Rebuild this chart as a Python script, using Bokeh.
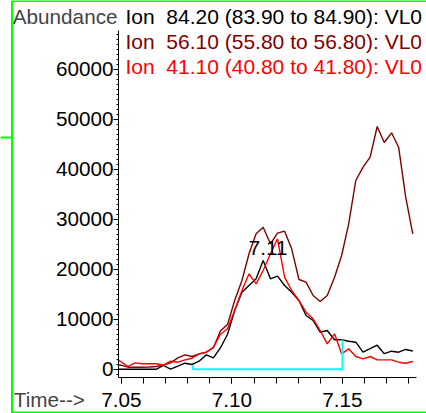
from bokeh.plotting import figure
from bokeh.models import (Range1d, FixedTicker, SingleIntervalTicker, PrintfTickFormatter,
                          Label, BoxAnnotation)
from bokeh.embed import file_html
from bokeh.resources import INLINE
from bokeh.core.properties import value

# ---- data ----
times = [7.0486, 7.0497, 7.0529, 7.0561, 7.0593, 7.0626, 7.0658, 7.0690, 7.0722, 7.0755,
         7.0787, 7.0819, 7.0851, 7.0884, 7.0916, 7.0948, 7.0980, 7.1012, 7.1045, 7.1077,
         7.1109, 7.1141, 7.1174, 7.1206, 7.1238, 7.1270, 7.1303, 7.1335, 7.1367, 7.1399,
         7.1431, 7.1464, 7.1496, 7.1528, 7.1560, 7.1593, 7.1625, 7.1657, 7.1689, 7.1722,
         7.1754, 7.1786, 7.1818]

ion_84 = [0, 0, 0, 0, 0, 0, 0, 740, 0, 600,
          1200, 940, 1600, 2870, 2270, 4300, 7000, 11740, 15400, 16740,
          18080, 21740, 18080, 18600, 16740, 15400, 13740, 10740, 9740, 7400,
          7740, 5880, 5880, 5600, 5400, 3400, 4100, 4800, 3100, 3600,
          3400, 3950, 3650]

ion_56 = [900, 800, 400, 400, 400, 450, 550, 800, 1270, 2270,
          2870, 2540, 3070, 3400, 4300, 7700, 8940, 13740, 17740, 23080,
          27080, 28400, 25080, 27200, 27600, 24080, 17940, 17400, 14740, 13540,
          14740, 18400, 22740, 29080, 37740, 40400, 42400, 48540, 45340, 47280,
          44400, 34400, 27080]

ion_41 = [1870, 1500, 540, 1270, 1100, 1100, 1100, 800, 1600, 1400,
          1870, 2200, 3070, 3400, 4400, 7000, 8080, 11740, 15740, 19080,
          17080, 19740, 23080, 26080, 18400, 15740, 13740, 11400, 10080, 7740,
          5080, 7080, 3070, 4070, 2540, 2070, 2540, 1870, 1870, 1870,
          1400, 1200, 1540]

baseline_t = [7.0823, 7.0823, 7.15, 7.15]
baseline_v = [800, 0, 0, 5880]

legend_labels = ["Ion\u00a0 84.20 (83.90 to 84.90): VL0",
                 "Ion\u00a0 56.10 (55.80 to 56.80): VL0",
                 "Ion\u00a0 41.10 (40.80 to 41.80): VL0"]
series_colors = ["#000000", "#800000", "#ff0000"]

x_major = [7.05, 7.10, 7.15]
x_minor = [7.05, 7.06, 7.07, 7.08, 7.09, 7.10, 7.11, 7.12, 7.13, 7.14, 7.15, 7.16, 7.17, 7.18]
peak_label = "7.11"

FONT = "Liberation Sans"
FS = "20.7px"

# frame fills the whole canvas; axes sit at fixed data locations
X0, X1 = 6.995249, 7.188009
Y0, Y1 = -8860, 73740
X_AXIS_AT = -1600
Y_AXIS_AT = 7.048643
X_END = 7.18348
Y_END = 67740

p = figure(width=426, height=413, output_backend="svg", toolbar_location=None,
           x_range=Range1d(X0, X1), y_range=Range1d(Y0, Y1), min_border=0)
p.title.visible = False
p.outline_line_color = None
p.xgrid.visible = False
p.ygrid.visible = False
p.background_fill_color = "white"
p.border_fill_color = "white"

xa = p.xaxis[0]
xa.fixed_location = X_AXIS_AT
xa.bounds = (Y_AXIS_AT, X_END)
xa.ticker = FixedTicker(ticks=x_major, minor_ticks=x_minor)
xa.formatter = PrintfTickFormatter(format="%.2f")
xa.major_tick_out = 6
xa.major_tick_in = 0
xa.minor_tick_out = 6
xa.minor_tick_in = 0
xa.major_label_standoff = 10
xa.major_label_text_font = FONT
xa.major_label_text_font_size = FS
xa.major_label_text_color = "black"
xa.axis_line_color = "black"

ya = p.yaxis[0]
ya.fixed_location = Y_AXIS_AT
ya.bounds = (X_AXIS_AT, Y_END)
ya.ticker = SingleIntervalTicker(interval=10000, num_minor_ticks=10)
ya.formatter = PrintfTickFormatter(format="%d")
ya.major_tick_out = 5
ya.major_tick_in = 0
ya.minor_tick_out = 2
ya.minor_tick_in = 0
ya.major_label_standoff = 0
ya.major_label_text_font = FONT
ya.major_label_text_font_size = FS
ya.major_label_text_color = "black"
ya.axis_line_color = "black"

for vals, col in zip([ion_84, ion_56, ion_41], series_colors):
    p.line(times, vals, line_color=col, line_width=1.4)

p.line(baseline_t, baseline_v, line_color="#00ffff", line_width=2)

# peak retention-time label at the apex of the 84.20 trace
apex = max(range(len(ion_84)), key=lambda i: ion_84[i])
p.text(x=[times[apex]], y=[ion_84[apex]], text=[peak_label], text_font=value(FONT),
       text_font_size=FS, text_align="center", text_baseline="middle",
       text_color="black", x_offset=5, y_offset=-13)

# texts around the axes
p.add_layout(Label(x=12.3, y=15.5, x_units="canvas", y_units="canvas", text="Abundance",
                   text_font=FONT, text_font_size=FS, text_baseline="middle"))
p.add_layout(Label(x=13.3, y=398.5, x_units="canvas", y_units="canvas", text="Time-->",
                   text_font=FONT, text_font_size=FS, text_baseline="middle"))
for k, (txt, col) in enumerate(zip(legend_labels, series_colors)):
    p.add_layout(Label(x=125, y=15.5 + 25 * k, x_units="canvas", y_units="canvas", text=txt,
                       text_font=FONT, text_font_size="21px", text_baseline="middle",
                       text_color=col))

# green panel border (left, top, bottom) and the neighbouring panel's edge
GREEN = "#00ff00"
p.add_layout(BoxAnnotation(left=7.000452, right=X1 + 0.01, top=73640, bottom=-8640,
                           fill_alpha=0, line_color=GREEN, line_alpha=1, line_width=2))
p.add_layout(BoxAnnotation(left=X0 - 0.01, right=7.000452, top=46540, bottom=46140,
                           fill_color=GREEN, fill_alpha=1, line_color=None))

open("out.html", "w").write(file_html(p, INLINE))
